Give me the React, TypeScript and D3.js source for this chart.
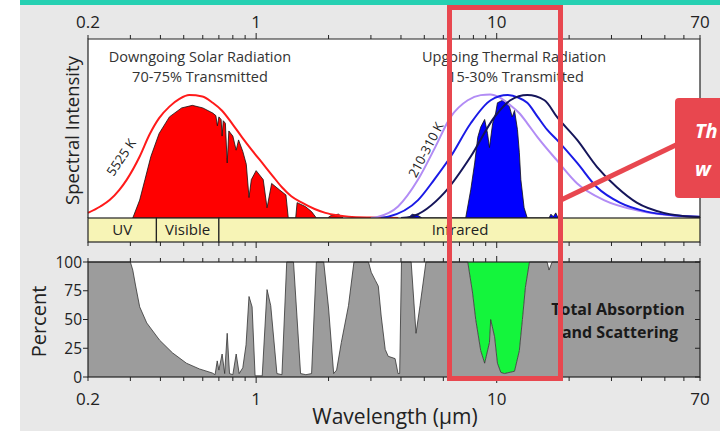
import React from "react";
import * as d3 from "d3";

// wavelength (µm) and relative intensity (0-100)
const SOLAR_5525K: [number, number][] = [
  [0.2, 4], [0.225, 9], [0.246, 14], [0.27, 22], [0.29, 30], [0.328, 48],
  [0.36, 65], [0.395, 78], [0.436, 87], [0.48, 93], [0.527, 96], [0.598, 95],
  [0.66, 90], [0.72, 84], [0.8, 73], [0.874, 63], [0.96, 53], [1.06, 43],
  [1.17, 33], [1.28, 24], [1.4, 17], [1.55, 12], [1.75, 7], [1.94, 4],
  [2.2, 2], [2.42, 1], [3.0, 0.3], [3.9, 0],
];

const SOLAR_TRANSMITTED: [number, number][] = [
  [0.307, 0], [0.328, 14], [0.345, 30], [0.365, 48], [0.395, 66], [0.436, 79],
  [0.49, 86], [0.543, 88], [0.6, 86], [0.66, 82], [0.68, 80], [0.69, 72],
  [0.7, 79], [0.715, 77], [0.722, 64], [0.73, 76], [0.745, 74], [0.758, 43],
  [0.77, 68], [0.8, 64], [0.826, 53], [0.845, 61], [0.88, 52], [0.91, 42],
  [0.934, 16], [0.955, 30], [1.0, 37], [1.07, 30], [1.11, 8], [1.16, 27],
  [1.25, 22], [1.33, 18], [1.36, 0], [1.46, 0], [1.48, 12], [1.6, 9],
  [1.7, 5], [1.78, 0], [1.98, 0], [2.05, 2], [2.2, 3], [2.3, 0],
];

const THERMAL_310K: [number, number][] = [
  [3.0, 0], [3.22, 1], [3.89, 9], [4.71, 30], [5.54, 55], [6.44, 79],
  [7.58, 92], [8.58, 96], [9.4, 96.5], [10.3, 94], [11.4, 88], [12.4, 82],
  [13.4, 74], [14.8, 63], [17.8, 45], [21.6, 27], [27.9, 14], [38.2, 6],
  [50, 2.5], [65.8, 1], [70, 0.8],
];

const THERMAL_260K: [number, number][] = [
  [3.3, 0], [3.54, 1], [4.71, 14], [5.5, 30], [6.44, 48], [7.8, 74],
  [9.44, 92], [11.1, 96], [12.3, 94], [13.4, 90], [14.8, 79], [16.2, 69],
  [17.8, 61], [21.6, 43], [26.1, 24], [32.5, 12], [42, 5], [55, 2], [70, 1],
];

const THERMAL_210K: [number, number][] = [
  [4.0, 0], [4.41, 1], [6.08, 20], [7.8, 48], [9.8, 79], [11.4, 92],
  [13.4, 96], [15.8, 92], [17.8, 79], [21.6, 61], [26.1, 40], [31.6, 24],
  [38.2, 12], [49.4, 4], [65.8, 1], [70, 0.8],
];

const THERMAL_TRANSMITTED: [number, number][] = [
  [4.3, 0], [4.45, 3], [4.7, 2], [4.9, 0], [7.43, 0], [7.8, 22], [8.1, 43],
  [8.34, 63], [8.58, 71], [8.91, 77], [9.16, 66], [9.33, 55], [9.62, 74],
  [9.9, 82], [10.07, 90], [10.58, 92], [10.9, 90], [11.3, 87], [11.6, 79],
  [11.86, 84], [12.2, 69], [12.42, 51], [12.6, 30], [13.0, 8], [13.4, 0],
  [16.5, 0], [16.8, 3], [17.2, 1], [17.6, 4], [18, 0],
];

// percent absorbed + scattered
const ABSORPTION: [number, number][] = [
  [0.2, 100], [0.3, 100], [0.307, 93], [0.315, 80], [0.328, 61], [0.351, 47],
  [0.397, 32], [0.449, 21], [0.513, 12], [0.581, 7], [0.657, 3.5], [0.675, 2],
  [0.689, 14], [0.7, 6], [0.722, 20], [0.74, 3], [0.758, 38], [0.775, 3],
  [0.8, 2], [0.826, 20], [0.85, 3], [0.88, 8], [0.908, 28], [0.934, 70],
  [0.962, 61], [0.99, 1], [1.06, 1], [1.11, 76], [1.15, 62], [1.22, 3],
  [1.28, 2], [1.34, 100], [1.43, 100], [1.53, 3], [1.61, 2], [1.7, 3],
  [1.78, 100], [1.91, 100], [2.0, 60], [2.1, 3], [2.16, 6], [2.26, 30],
  [2.42, 62], [2.55, 100], [2.93, 100], [3.01, 91], [3.13, 84], [3.22, 79],
  [3.31, 53], [3.44, 24], [3.54, 18], [3.78, 16], [3.89, 3], [3.95, 3],
  [4.02, 100], [4.41, 100], [4.62, 38], [4.8, 62], [5.08, 100], [7.58, 100],
  [7.94, 73], [8.18, 50], [8.58, 23], [8.91, 12], [9.33, 30], [9.44, 50],
  [9.8, 35], [10.07, 12], [10.4, 4], [10.77, 3], [11.86, 5], [12.42, 23],
  [12.79, 50], [13.16, 78], [13.68, 100], [16.2, 100], [16.5, 93], [17.0, 100],
  [70, 100],
];

const WINDOW: [number, number] = [7.58, 13.68];
const X_LABELS = [0.2, 1, 10, 70];
const PERCENT_TICKS = [0, 25, 50, 75, 100];
const BANDS: { name: string; from: number; to: number }[] = [
  { name: "UV", from: 0.2, to: 0.385 },
  { name: "Visible", from: 0.385, to: 0.7 },
  { name: "Infrared", from: 0.7, to: 70 },
];

const FONT = "'Open Sans', sans-serif";

export default function App() {
  const W = 720;
  const H = 431;
  const left = 88;
  const right = 700;
  const topY = 39;
  const baseY = 218;
  const bandY = 242;
  const botTop = 262;
  const botY = 377;

  const x = d3.scaleLog().domain([0.2, 70]).range([left, right]);
  const yTop = d3.scaleLinear().domain([0, 100]).range([baseY, 90]);
  const yBot = d3.scaleLinear().domain([0, 100]).range([botY, botTop]);

  const smooth = d3
    .line<[number, number]>()
    .x((d) => x(d[0]))
    .y((d) => yTop(d[1]))
    .curve(d3.curveMonotoneX);
  const topArea = d3
    .area<[number, number]>()
    .x((d) => x(d[0]))
    .y0(baseY)
    .y1((d) => yTop(d[1]));
  const absArea = d3
    .area<[number, number]>()
    .x((d) => x(d[0]))
    .y0(botY)
    .y1((d) => yBot(d[1]));
  const absLine = d3
    .line<[number, number]>()
    .x((d) => x(d[0]))
    .y((d) => yBot(d[1]));
  const greenArea = d3
    .area<[number, number]>()
    .x((d) => x(d[0]))
    .y0(botTop)
    .y1((d) => yBot(d[1]));
  const windowPts = ABSORPTION.filter((d) => d[0] >= WINDOW[0] && d[0] <= WINDOW[1]);

  const ticks = x.ticks();
  const isMajor = (t: number) => t === 1 || t === 10;

  const tickRow = (y: number, dir: number, key: string) =>
    ticks.map((t) => (
      <line
        key={key + t}
        x1={x(t)}
        x2={x(t)}
        y1={y}
        y2={y + dir * (isMajor(t) ? 6 : 4)}
        stroke="#222"
        strokeWidth={1}
      />
    ));

  return (
    <div style={{ position: "fixed", left: 0, top: 0, width: W, height: H }}>
      <svg width={W} height={H} style={{ display: "block" }} fontFamily={FONT}>
        <rect x={0} y={0} width={W} height={H} fill="#fff" />
        <rect x={20} y={5} width={W - 20} height={H - 5} fill="#e8e8e8" />
        <rect x={20} y={0} width={W - 20} height={5} fill="#26d0b2" />

        {/* top panel */}
        <rect x={left} y={topY} width={right - left} height={baseY - topY} fill="#fff" />
        <path d={topArea(SOLAR_TRANSMITTED) || ""} fill="#ff0000" stroke="#111" strokeWidth={0.8} />
        <path d={topArea(THERMAL_TRANSMITTED) || ""} fill="#0000ff" stroke="#111" strokeWidth={0.8} />
        <path d={smooth(SOLAR_5525K) || ""} fill="none" stroke="#ff1a1a" strokeWidth={2} />
        <path d={smooth(THERMAL_310K) || ""} fill="none" stroke="#b28cf5" strokeWidth={2} />
        <path d={smooth(THERMAL_260K) || ""} fill="none" stroke="#1a1ae6" strokeWidth={2} />
        <path d={smooth(THERMAL_210K) || ""} fill="none" stroke="#15155a" strokeWidth={2} />
        <path
          d={`M${left},${baseY}V${topY}H${right}V${baseY}`}
          fill="none"
          stroke="#222"
          strokeWidth={1.2}
        />
        {tickRow(topY, -1, "tt")}
        {X_LABELS.map((v) => (
          <text key={"tl" + v} x={x(v)} y={28} textAnchor="middle" fontSize={17} fill="#222">
            {v}
          </text>
        ))}

        <text x={200} y={62} textAnchor="middle" fontSize={14.5} fill="#333">
          Downgoing Solar Radiation
        </text>
        <text x={200} y={82} textAnchor="middle" fontSize={14.5} fill="#333">
          70-75% Transmitted
        </text>
        <text x={514} y={62} textAnchor="middle" fontSize={14.5} fill="#333">
          Upgoing Thermal Radiation
        </text>
        <text x={516} y={82} textAnchor="middle" fontSize={14.5} fill="#333">
          15-30% Transmitted
        </text>
        <text
          transform="translate(125,160) rotate(-56)"
          textAnchor="middle"
          fontSize={13}
          fill="#222"
        >
          5525 K
        </text>
        <text
          transform="translate(430,152) rotate(-62)"
          textAnchor="middle"
          fontSize={13}
          fill="#222"
        >
          210-310 K
        </text>
        <text
          transform={`translate(79,${(topY + baseY) / 2 + 2}) rotate(-90)`}
          textAnchor="middle"
          fontSize={18.5}
          fill="#222"
        >
          Spectral Intensity
        </text>

        {/* band bar */}
        {BANDS.map((b) => (
          <g key={b.name}>
            <rect
              x={x(b.from)}
              y={baseY}
              width={x(b.to) - x(b.from)}
              height={bandY - baseY}
              fill="#f7f4b6"
              stroke="#222"
              strokeWidth={1.2}
            />
            <text
              x={b.name === "Infrared" ? 460 : (x(b.from) + x(b.to)) / 2}
              y={baseY + 17}
              textAnchor="middle"
              fontSize={15}
              fill="#222"
            >
              {b.name}
            </text>
          </g>
        ))}
        {tickRow(bandY, 1, "bt")}

        {/* bottom panel */}
        <rect x={left} y={botTop} width={right - left} height={botY - botTop} fill="#fff" />
        <path d={greenArea(windowPts) || ""} fill="#14f53c" />
        <path d={absArea(ABSORPTION) || ""} fill="#9c9c9c" />
        <path d={absLine(ABSORPTION) || ""} fill="none" stroke="#333" strokeWidth={0.8} />
        <rect
          x={left}
          y={botTop}
          width={right - left}
          height={botY - botTop}
          fill="none"
          stroke="#222"
          strokeWidth={1.2}
        />
        {tickRow(botTop, -1, "pt")}
        {tickRow(botY, 1, "pb")}
        {PERCENT_TICKS.map((p) => (
          <g key={"p" + p}>
            <line x1={left - 5} x2={left} y1={yBot(p)} y2={yBot(p)} stroke="#222" />
            <line x1={right - 5} x2={right} y1={yBot(p)} y2={yBot(p)} stroke="#222" />
            <text
              x={left - 6}
              y={yBot(p) + 5.5}
              textAnchor="end"
              fontSize={15.5}
              fill="#222"
            >
              {p}
            </text>
          </g>
        ))}
        <text
          transform={`translate(46,${(botTop + botY) / 2 + 2}) rotate(-90)`}
          textAnchor="middle"
          fontSize={20}
          fill="#222"
        >
          Percent
        </text>
        <text x={618} y={315} textAnchor="middle" fontSize={16} fontWeight="bold" fill="#1a1a1a">
          Total Absorption
        </text>
        <text x={620} y={338} textAnchor="middle" fontSize={16} fontWeight="bold" fill="#1a1a1a">
          and Scattering
        </text>
        {X_LABELS.map((v) => (
          <text key={"bl" + v} x={x(v)} y={405} textAnchor="middle" fontSize={17} fill="#222">
            {v}
          </text>
        ))}
        <text x={395} y={424} textAnchor="middle" fontSize={21} fill="#222">
          Wavelength (µm)
        </text>

        {/* callout */}
        <rect x={449.5} y={7.5} width={111} height={371} fill="none" stroke="#e8474f" strokeWidth={5} />
        <line x1={561} x2={678} y1={200} y2={144} stroke="#e8474f" strokeWidth={5} />
        <rect x={675} y={98} width={60} height={100} rx={4} fill="#e8474f" />
        <text x={695} y={138} fontSize={20} fontWeight="bold" fontStyle="italic" fill="#fff">
          Th
        </text>
        <text x={695} y={176} fontSize={20} fontWeight="bold" fontStyle="italic" fill="#fff">
          w
        </text>
      </svg>
    </div>
  );
}
